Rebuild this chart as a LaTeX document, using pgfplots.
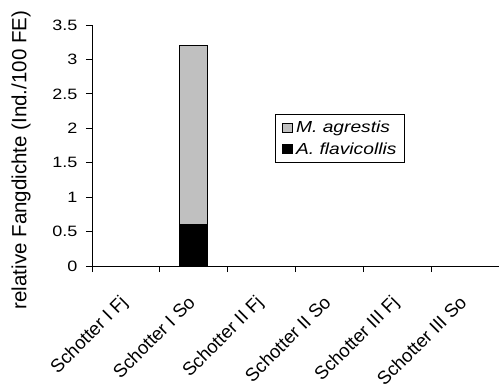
\documentclass[border=0pt]{standalone}
\usepackage{fontspec}
\setmainfont{Liberation Sans}[FakeStretch=1.2]
\newfontfamily\labelfont{Liberation Sans}
\usepackage{pgfplots}
\pgfplotsset{compat=1.18}
\definecolor{mgray}{RGB}{192,192,192}
\begin{document}
\begin{tikzpicture}[x=1pt,y=1pt]
\begin{axis}[
  at={(0,0)}, anchor=south west,
  scale only axis, width=407pt, height=241pt,
  ybar stacked, bar width=28pt,
  xmin=-0.5, xmax=5.5, ymin=0, ymax=3.5,
  ytick={0,0.5,1,1.5,2,2.5,3,3.5},
  xtick={0,1,2,3,4,5},
  xticklabels={Schotter I Fj,Schotter I So,Schotter II Fj,Schotter II So,Schotter III Fj,Schotter III So},
  minor xtick={-0.5,0.5,1.5,2.5,3.5,4.5,5.5},
  major x tick style={draw=none},
  axis x line*=bottom, axis y line*=left,
  tick align=outside,
  major tick length=6pt, minor tick length=6pt,
  tick style={black, line width=0.8pt},
  axis line style={black, line width=0.8pt},
  /pgf/number format/assume math mode=true,
  yticklabel style={font=\fontsize{15}{15}\selectfont, xshift=-5pt},
  xticklabel style={font=\labelfont\fontsize{18.5}{18.5}\selectfont, xshift=-7pt, yshift=-22pt, rotate=45, anchor=north east, inner sep=0pt},
  ylabel={relative Fangdichte (Ind./100 FE)},
  ylabel style={at={(axis description cs:-0.174,0.44)}, anchor=center, font=\labelfont\fontsize{20.5}{20.5}\selectfont},
  reverse legend,
  legend cell align=left,
  legend style={at={(axis description cs:0.45,0.631)}, anchor=north west, draw=black, line width=0.8pt,
    font=\itshape\fontsize{16}{16}\selectfont, inner xsep=6pt, inner ysep=5pt, row sep=4pt,
    nodes={inner sep=2pt}},
  legend image code/.code={\draw[#1, draw=black, line width=0.6pt] (0pt,-4.5pt) rectangle (10pt,4.5pt);},
]
\addplot[fill=black, draw=black, line width=0.8pt] coordinates {(1,0.6)};
\addplot[fill=mgray, draw=black, line width=0.8pt] coordinates {(1,2.6)};
\legend{\hspace{2pt}A.~flavicollis\hspace{6pt}, \hspace{2pt}M.~agrestis}
\end{axis}
\pgfresetboundingbox
\path[use as bounding box] (-92,-125) rectangle (407,266);
\end{tikzpicture}
\end{document}
